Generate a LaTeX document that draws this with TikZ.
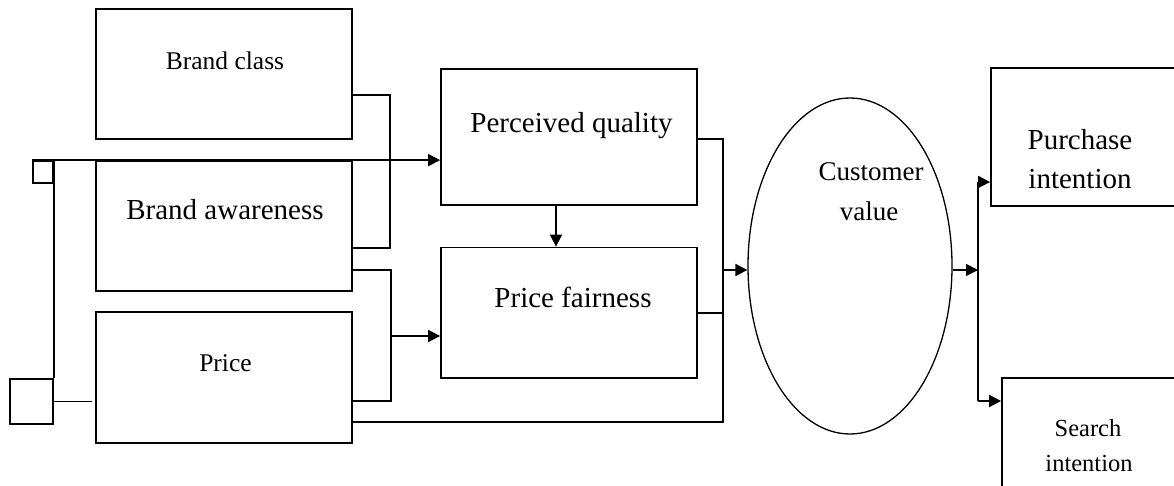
\documentclass[tikz,border=0pt]{standalone}
\usepackage{fontspec}
\setmainfont{Liberation Serif}
\usetikzlibrary{shapes.geometric,arrows.meta}
\begin{document}
\begin{tikzpicture}[x=1pt,y=-1pt,
  box/.style={draw, line width=1.8pt, rectangle, inner sep=0pt},
  lbl/.style={anchor=base, inner sep=0pt, font=\fontsize{29}{35}\selectfont},
  lbls/.style={anchor=base, inner sep=0pt, font=\fontsize{25.5}{30}\selectfont},
  lblt/.style={anchor=base, inner sep=0pt, font=\fontsize{24.5}{30}\selectfont},
  lblc/.style={anchor=base, inner sep=0pt, font=\fontsize{27}{32}\selectfont},
  conn/.style={line width=1.8pt},
  arr/.style={line width=1.8pt, -{Triangle[length=12pt,width=12pt]}},
]
\useasboundingbox (0,0) rectangle (1174,486);

% boxes
\node[box, minimum width=256pt, minimum height=130pt] (bc) at (224,74) {};
\node[box, minimum width=256pt, minimum height=130pt] (ba) at (224,226) {};
\node[box, minimum width=256pt, minimum height=131pt] (pr) at (224,377.5) {};
\node[box, minimum width=256pt, minimum height=136pt] (pq) at (569,137) {};
\node[box, minimum width=256pt, minimum height=130.5pt] (pf) at (569,312.75) {};
\node[draw, line width=1.3pt, ellipse, inner sep=0pt, minimum width=204pt, minimum height=336pt] (ce) at (850,266) {};
\node[box, minimum width=219pt, minimum height=138pt] (pi) at (1100.5,137) {};
\node[box, minimum width=208pt, minimum height=132pt] (si) at (1106,444) {};
\node[box, minimum width=20pt, minimum height=22pt] (sq1) at (43,172) {};
\node[box, minimum width=43pt, minimum height=45pt] (sq2) at (31.5,401.5) {};

% texts
\node[lbls] (bct) at (225,70) {Brand class};
\node[lbl] (bat) at (225,220) {Brand awareness};
\node[lbls] (prt) at (225.5,371.5) {Price};
\node[lbl] (pqt) at (571.5,133) {Perceived quality};
\node[lbl] (pft) at (573,307) {Price fairness};
\node[lblc] (cet1) at (871,181) {Customer};
\node[lblc] (cet2) at (869,221) {value};
\node[lbl] (pit1) at (1080,150) {Purchase};
\node[lbl] (pit2) at (1080,189) {intention};
\node[lblt] (sit1) at (1088,436.5) {Search};
\node[lblt] (sit2) at (1089,471.5) {intention};

% junction coordinates
\coordinate (j1) at (390,95);
\coordinate (j2) at (390,248);
\coordinate (j3) at (391,270);
\coordinate (j4) at (391,401);
\coordinate (j5) at (391,336);
\coordinate (j6) at (556,0);
\coordinate (j7) at (723,139);
\coordinate (j8) at (723,422);
\coordinate (j9) at (723,313);
\coordinate (j10) at (978,182);
\coordinate (j11) at (978,401);
\coordinate (j12) at (723,270);
\coordinate (j13) at (952,270);

% connectors
\draw[conn] (bc.east |- j1) -| (j2) -- (ba.east |- j2);
\draw[conn] (ba.east |- j3) -| (j4) -- (pr.east |- j4);
\draw[arr] (j5) -- (pf.west |- j5);
\draw[arr] (pq.south -| j6) -- (pf.north -| j6);
\draw[conn] (pq.east |- j7) -| (j8) -- (pr.east |- j8);
\draw[conn] (pf.east |- j9) -- (j9);
\draw[arr] (j12) -- (ce.west |- j12);
\draw[arr] (ce.east |- j13) -- (j10 |- j13);
\draw[conn] (j10) -- (j11);
\draw[arr] (j10) -- (pi.west |- j10);
\draw[arr] (j11) -- (si.west |- j11);
\draw[arr] (sq1.north west) -- (sq1.north west -| pq.west);
\draw[conn] (sq1.north east) -- (sq2.north east);
\draw[conn, shorten >=3pt] (sq2.east) -- (sq2.east -| pr.west);
\end{tikzpicture}
\end{document}
